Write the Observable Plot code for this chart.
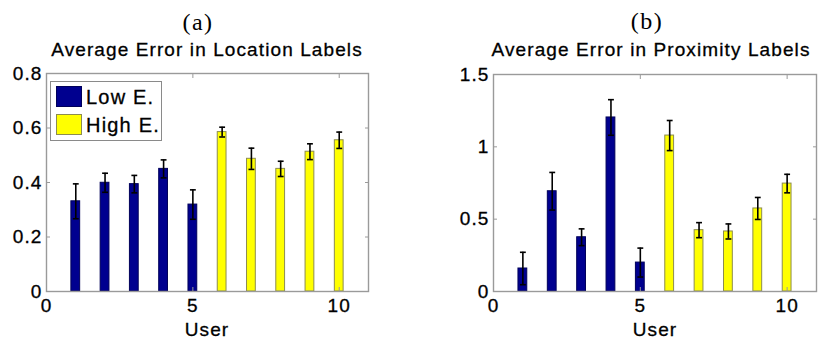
<!DOCTYPE html>
<html>
<head>
<meta charset="utf-8">
<script src="https://cdn.jsdelivr.net/npm/d3@7"></script>
<script src="https://cdn.jsdelivr.net/npm/@observablehq/plot@0.6"></script>
<style>
  html, body { margin: 0; padding: 0; background: #fff; }
  #wrap { position: relative; width: 820px; height: 342px; overflow: hidden; background: #fff;
          font-family: "Liberation Sans", Arial, Helvetica, sans-serif; color: #000; }
  .panel { position: absolute; top: 0; }
  #wrap svg text { stroke: #000; stroke-width: 0.3px; }
  .lbl { position: absolute; white-space: nowrap; transform: translateX(-50%); font-size: 19px; letter-spacing: 1.1px; line-height: 19px; -webkit-text-stroke: 0.3px #000; }
  .tag { position: absolute; white-space: nowrap; transform: translateX(-50%); font-family: "Liberation Serif", "DejaVu Serif", serif; font-size: 24px; letter-spacing: 1.5px; line-height: 24px; }
  #legend { position: absolute; left: 50px; top: 81px; width: 110px; height: 58px; border: 1px solid #8a8a8a; background: #fff; }
  .li { position: absolute; left: 5px; height: 22px; font-size: 20px; letter-spacing: 1.2px; line-height: 22px; white-space: nowrap; -webkit-text-stroke: 0.3px #000; }
  .sw { display: inline-block; width: 26px; height: 21px; vertical-align: top; margin-right: 4px; box-sizing: border-box; }
</style>
</head>
<body>
<div id="wrap">
  <div id="pa" class="panel" style="left:0"></div>
  <div id="pb" class="panel" style="left:410px"></div>
</div>
<script>
// ---- data ----
const users = [1, 2, 3, 4, 5, 6, 7, 8, 9, 10];
const groupNames = ["Low E.", "High E."];
const userGroup = ["Low E.", "Low E.", "Low E.", "Low E.", "Low E.", "High E.", "High E.", "High E.", "High E.", "High E."];
const locValues = [0.331, 0.399, 0.394, 0.450, 0.319, 0.585, 0.487, 0.450, 0.513, 0.555];
const locErrors = [0.064, 0.035, 0.032, 0.033, 0.054, 0.018, 0.039, 0.028, 0.029, 0.030];
const proxValues = [0.159, 0.693, 0.375, 1.203, 0.200, 1.078, 0.424, 0.415, 0.574, 0.746];
const proxErrors = [0.112, 0.130, 0.058, 0.123, 0.100, 0.104, 0.052, 0.052, 0.076, 0.064];
const xTicks = [0, 5, 10];
const locTicks = [0, 0.2, 0.4, 0.6, 0.8];
const proxTicks = [0, 0.5, 1, 1.5];
const panelTags = ["(a)", "(b)"];
const panelTitles = ["Average Error in Location Labels", "Average Error in Proximity Labels"];
const xLabel = "User";

// ---- styles ----
const fills = { "Low E.": "#00008f", "High E.": "#ffff00" };
const outlines = { "Low E.": "#00005a", "High E.": "#8c8c50" };
const frameColor = "#9a9a9a";
const FONT = "'Liberation Sans', Arial, Helvetica, sans-serif";

function makeRows(vals, errs) {
  return users.map((u, i) => ({ user: u, group: userGroup[i], value: vals[i], err: errs[i] }));
}

function panel(rows, yMax, yTicks, margins) {
  const bw = 0.15, cw = 0.1;
  const marks = [];
  for (const g of groupNames) {
    marks.push(Plot.rect(rows.filter(d => d.group === g), {
      x1: d => d.user - bw, x2: d => d.user + bw, y1: 0, y2: "value",
      fill: fills[g], stroke: outlines[g], strokeWidth: 1
    }));
  }
  marks.push(
    Plot.ruleX(rows, { x: "user", y1: d => d.value - d.err, y2: d => d.value + d.err, stroke: "#000", strokeWidth: 1.6 }),
    Plot.link(rows, { x1: d => d.user - cw, x2: d => d.user + cw, y1: d => d.value + d.err, y2: d => d.value + d.err, stroke: "#000", strokeWidth: 1.6 }),
    Plot.link(rows, { x1: d => d.user - cw, x2: d => d.user + cw, y1: d => d.value - d.err, y2: d => d.value - d.err, stroke: "#000", strokeWidth: 1.6 }),
    Plot.frame({ stroke: frameColor, strokeWidth: 1.4 }),
    Plot.axisX({ anchor: "bottom", ticks: xTicks, tickSize: 0, tickPadding: 7, fontSize: 19, label: null, tickFormat: d => String(d) }),
    Plot.axisX({ anchor: "bottom", ticks: xTicks, tickSize: -4, text: null, stroke: frameColor, label: null }),
    Plot.axisX({ anchor: "top", ticks: xTicks, tickSize: -4, text: null, stroke: frameColor, label: null }),
    Plot.axisY({ anchor: "left", ticks: yTicks, tickSize: 0, tickPadding: 4, fontSize: 19, label: null, tickFormat: d => String(d) }),
    Plot.axisY({ anchor: "left", ticks: yTicks, tickSize: -4, text: null, stroke: frameColor, label: null }),
    Plot.axisY({ anchor: "right", ticks: yTicks, tickSize: -4, text: null, stroke: frameColor, label: null })
  );
  return Plot.plot({
    width: 410, height: 342,
    marginLeft: margins[0], marginRight: margins[1], marginTop: margins[2], marginBottom: margins[3],
    x: { domain: [0, 11] },
    y: { domain: [0, yMax] },
    style: { fontFamily: FONT, letterSpacing: "1.1px", background: "transparent", color: "#000" },
    marks
  });
}

document.getElementById("pa").appendChild(panel(makeRows(locValues, locErrors), 0.8, locTicks, [46, 42, 73, 51]));
document.getElementById("pb").appendChild(panel(makeRows(proxValues, proxErrors), 1.5, proxTicks, [83, 4, 74, 51]));

// ---- texts ----
const wrap = document.getElementById("wrap");
function addText(cls, txt, cx, top) {
  const el = document.createElement("div");
  el.className = cls;
  el.textContent = txt;
  el.style.left = cx + "px";
  el.style.top = top + "px";
  wrap.appendChild(el);
}
addText("tag", panelTags[0], 198, 10);
addText("tag", panelTags[1], 647, 9);
addText("lbl", panelTitles[0], 207, 40);
addText("lbl", panelTitles[1], 651, 40);
addText("lbl", xLabel, 207, 320);
addText("lbl", xLabel, 655, 320);

// legend
const leg = document.createElement("div");
leg.id = "legend";
groupNames.forEach((g, i) => {
  const row = document.createElement("div");
  row.className = "li";
  row.style.top = (4 + i * 28) + "px";
  const sw = document.createElement("span");
  sw.className = "sw";
  sw.style.background = fills[g];
  sw.style.border = "1px solid " + outlines[g];
  row.appendChild(sw);
  row.appendChild(document.createTextNode(g));
  leg.appendChild(row);
});
wrap.appendChild(leg);
</script>
</body>
</html>
